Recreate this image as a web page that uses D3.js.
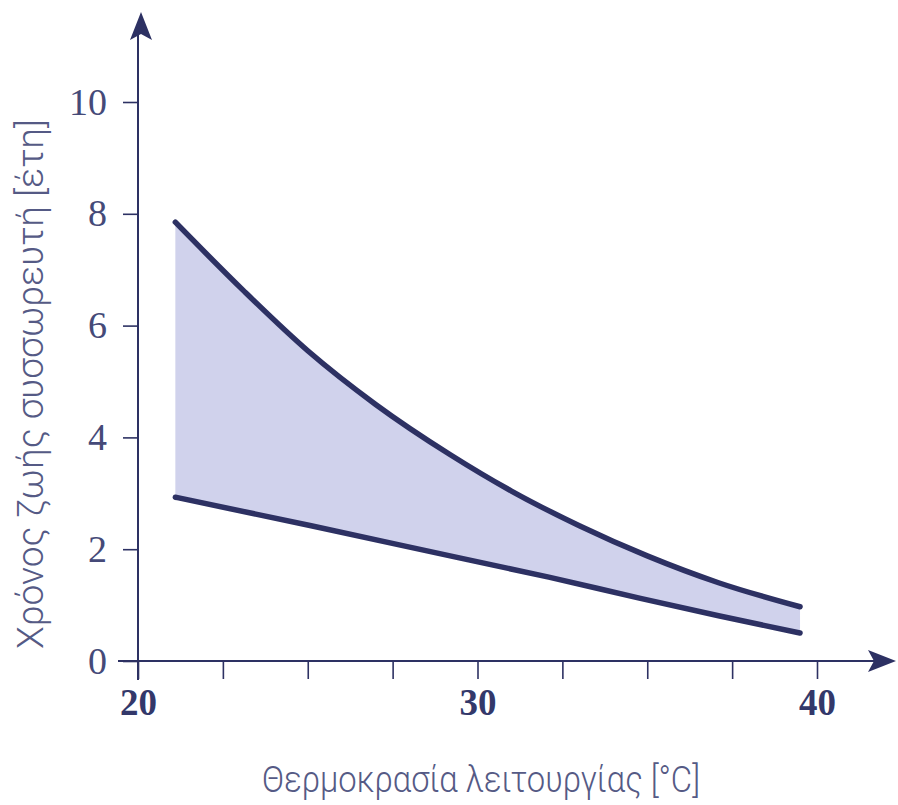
<!DOCTYPE html>
<html>
<head>
<meta charset="utf-8">
<script src="https://cdn.jsdelivr.net/npm/d3@7"></script>
<style>
  body { margin: 0; background: #fff; }
  svg { display: block; }
</style>
</head>
<body>
<svg id="chart" width="898" height="805"></svg>
<script>
// values
const upperTemp = [21.1, 23.1, 25, 27, 29.2, 31, 33, 35, 37.1, 39.5];
const upperLife = [7.85, 6.63, 5.55, 4.59, 3.69, 3.04, 2.42, 1.88, 1.4, 0.97];
const lowerTemp = [21.1, 25.1, 29.5, 32.1, 34.8, 37.1, 39.5];
const lowerLife = [2.93, 2.42, 1.84, 1.5, 1.12, 0.81, 0.5];

const xTicks = [20, 22.5, 25, 27.5, 30, 32.5, 35, 37.5, 40];
const xTickLabels = { 20: "20", 30: "30", 40: "40" };
const yTicks = [0, 2, 4, 6, 8, 10];

const xTitle = "Θερμοκρασία λειτουργίας [°C]";
const yTitle = "Χρόνος ζωής συσσωρευτή [έτη]";

const svg = d3.select("#chart");
const ink = "#2d3163";
const textInk = "#454a78";

const x = d3.scaleLinear().domain([20, 40]).range([138, 817]);
const y = d3.scaleLinear().domain([0, 10]).range([661, 102]);

const upper = upperTemp.map((t, i) => ({ t, v: upperLife[i] }));
const lower = lowerTemp.map((t, i) => ({ t, v: lowerLife[i] }));

const line = d3.line()
  .x(d => x(d.t))
  .y(d => y(d.v))
  .curve(d3.curveMonotoneX);

// shaded band between the two curves
const bandPath = line(upper) + "L" + line(lower.slice().reverse()).slice(1) + "Z";
svg.append("path")
  .attr("d", bandPath)
  .attr("fill", "#d0d2ec")
  .attr("stroke", "none");

// axis lines and arrows
const axisG = svg.append("g");
axisG.append("line")
  .attr("x1", 118).attr("x2", 880)
  .attr("y1", y(0)).attr("y2", y(0))
  .attr("stroke", ink).attr("stroke-width", 2);
axisG.append("line")
  .attr("x1", x(20)).attr("x2", x(20))
  .attr("y1", 680).attr("y2", 30)
  .attr("stroke", ink).attr("stroke-width", 2);
axisG.append("path")
  .attr("d", `M${x(20) + 3},12 L${x(20) - 8},40 L${x(20) + 3},34 L${x(20) + 14},40 Z`)
  .attr("fill", ink);
axisG.append("path")
  .attr("d", `M896,${y(0)} L868,${y(0) - 11} L874,${y(0)} L868,${y(0) + 11} Z`)
  .attr("fill", ink);

// y axis ticks
const yAxis = svg.append("g")
  .attr("transform", `translate(${x(20)},0)`)
  .call(d3.axisLeft(y).tickValues(yTicks).tickSize(15).tickPadding(16));
yAxis.select(".domain").remove();
yAxis.selectAll(".tick line").attr("stroke", ink).attr("stroke-width", 1.6);
yAxis.selectAll(".tick text")
  .attr("fill", textInk)
  .attr("font-family", "'Liberation Serif', 'DejaVu Serif', serif")
  .attr("font-size", 38);

// x axis ticks
const xAxis = svg.append("g")
  .attr("transform", `translate(0,${y(0)})`)
  .call(d3.axisBottom(x).tickValues(xTicks).tickSize(18).tickPadding(16)
    .tickFormat(d => xTickLabels[d] || ""));
xAxis.select(".domain").remove();
xAxis.selectAll(".tick line").attr("stroke", ink).attr("stroke-width", 1.6);
xAxis.selectAll(".tick text")
  .attr("fill", "#33386a")
  .attr("font-family", "'Liberation Serif', 'DejaVu Serif', serif")
  .attr("font-weight", "bold")
  .attr("font-size", 37)
  .attr("dy", "0.55em");

// the two curves
svg.selectAll(".curve")
  .data([upper, lower])
  .join("path")
  .attr("class", "curve")
  .attr("d", line)
  .attr("fill", "none")
  .attr("stroke", ink)
  .attr("stroke-width", 5.5)
  .attr("stroke-linecap", "round");

// axis titles
svg.append("text")
  .attr("x", 481)
  .attr("y", 792)
  .attr("text-anchor", "middle")
  .attr("fill", "#555a85")
  .attr("font-family", "Roboto, 'Noto Sans', sans-serif")
  .attr("font-weight", 300)
  .attr("font-size", 36)
  .attr("textLength", 438)
  .attr("lengthAdjust", "spacingAndGlyphs")
  .text(xTitle);

svg.append("text")
  .attr("transform", "translate(43,384) rotate(-90)")
  .attr("text-anchor", "middle")
  .attr("fill", "#555a85")
  .attr("font-family", "Roboto, 'Noto Sans', sans-serif")
  .attr("font-weight", 300)
  .attr("font-size", 36)
  .attr("textLength", 530)
  .attr("lengthAdjust", "spacingAndGlyphs")
  .text(yTitle);
</script>
</body>
</html>
